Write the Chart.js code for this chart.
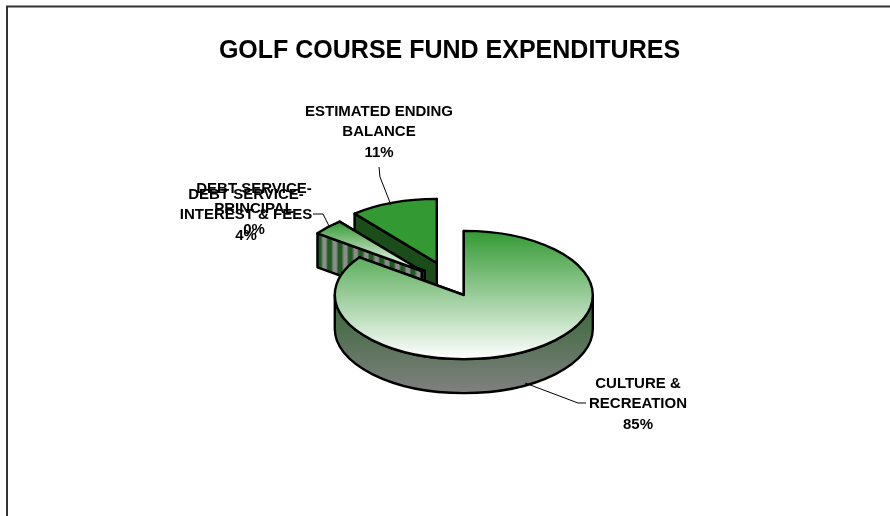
<!DOCTYPE html>
<html>
<head>
<meta charset="utf-8">
<title>Golf Course Fund Expenditures</title>
<script src="https://cdn.jsdelivr.net/npm/chart.js@4/dist/chart.umd.min.js"></script>
<style>
    html, body { margin: 0; padding: 0; background: #fff; overflow: hidden; }
    #wrap { position: absolute; left: 0; top: 0; width: 890px; height: 516px; }
</style>
</head>
<body>
<div id="wrap"><canvas id="fundChart" width="890" height="516"></canvas></div>
<script>
const chartTitle = "GOLF COURSE FUND EXPENDITURES";
const categories = [
    "CULTURE & RECREATION",
    "DEBT SERVICE-PRINCIPAL",
    "DEBT SERVICE-INTEREST & FEES",
    "ESTIMATED ENDING BALANCE"
];
const percentValues = [85, 0, 4, 11];

/* =========================
   LOOK OF THE 3D PIE
========================= */
const PIE_RADIUS = 129;
const TILT = 0.497;
const DEPTH = 34;
// how far each slice is pulled out of the pie, in pixels
const EXPLODE = [[0, 0], [-39, -24], [-42, -24], [-27, -32]];
// painter's order, back slices first
const PAINT_ORDER = [3, 1, 2, 0];

// label text lines with their centre position and leader line
const LABELS = [
    { lines: ["CULTURE &", "RECREATION", "85%"], x: 638, y: 383.5, leader: [[525, 383], [578, 403], [586, 403]] },
    { lines: ["DEBT SERVICE-", "PRINCIPAL", "0%"], x: 254, y: 188.5, leader: null },
    { lines: ["DEBT SERVICE-", "INTEREST & FEES", "4%"], x: 246, y: 194.5, leader: [[313, 214], [323, 214], [329, 226]] },
    { lines: ["ESTIMATED ENDING", "BALANCE", "11%"], x: 379, y: 111.5, leader: [[379, 167], [380, 177], [391, 205]] }
];

/* =========================
   FILLS
========================= */
function topFill(c) {
    const ctx = c.chart.ctx;
    const area = c.chart.chartArea;
    if (!area) return "#339933";
    const cy = (area.top + area.bottom) / 2;
    if (c.dataIndex === 0) {
        const g = ctx.createLinearGradient(0, cy - PIE_RADIUS, 0, cy + PIE_RADIUS);
        g.addColorStop(0, "#339933");
        g.addColorStop(1, "#ffffff");
        return g;
    }
    if (c.dataIndex === 2) {
        const g = ctx.createLinearGradient(0, cy - PIE_RADIUS * 0.77, 0, cy);
        g.addColorStop(0, "#339933");
        g.addColorStop(1, "#ffffff");
        return g;
    }
    return "#339933";
}

function stripes(ctx, x0, x1) {
    const period = 10.6;
    const g = ctx.createLinearGradient(x0, 0, x1, 0);
    const n = Math.ceil((x1 - x0) / period);
    for (let i = 0; i < n; i++) {
        g.addColorStop(i / n, "#1f5a1f");
        g.addColorStop((i + 0.3) / n, "#1f5a1f");
        g.addColorStop((i + 0.55) / n, "#8c8c8c");
        g.addColorStop((i + 0.8) / n, "#8c8c8c");
    }
    g.addColorStop(1, "#1f5a1f");
    return g;
}

/* =========================
   TOOL: PIE GEOMETRY
========================= */
function rim(p, angle) {
    return [p.x + PIE_RADIUS * Math.cos(angle), p.y + PIE_RADIUS * Math.sin(angle) * TILT];
}

function cutFace(ctx, p, angle, fill) {
    const e = rim(p, angle);
    ctx.beginPath();
    ctx.moveTo(p.x, p.y);
    ctx.lineTo(e[0], e[1]);
    ctx.lineTo(e[0], e[1] + DEPTH);
    ctx.lineTo(p.x, p.y + DEPTH);
    ctx.closePath();
    ctx.fillStyle = fill;
    ctx.fill();
    ctx.stroke();
}

function outerWall(ctx, p, start, end) {
    const from = Math.max(start, 0);
    const to = Math.min(end, Math.PI);
    if (to <= from) return;
    const g = ctx.createLinearGradient(0, p.y, 0, p.y + PIE_RADIUS * TILT + DEPTH);
    g.addColorStop(0, "#336633");
    g.addColorStop(1, "#808080");
    ctx.beginPath();
    ctx.ellipse(p.x, p.y, PIE_RADIUS, PIE_RADIUS * TILT, 0, from, to);
    ctx.ellipse(p.x, p.y + DEPTH, PIE_RADIUS, PIE_RADIUS * TILT, 0, to, from, true);
    ctx.closePath();
    ctx.fillStyle = g;
    ctx.fill();
    ctx.stroke();
}

/* =========================
   PLUGIN: TILTED PIE
========================= */
const tiltedPie = {
    id: "tiltedPie",
    beforeDatasetDraw(chart, args) {
        const ctx = chart.ctx;
        const arcs = args.meta.data;

        PAINT_ORDER.forEach(i => {
            const arc = arcs[i];
            const p = { x: arc.x + EXPLODE[i][0], y: arc.y + EXPLODE[i][1] };

            ctx.save();
            ctx.strokeStyle = "#000";
            ctx.lineWidth = 2.4;
            ctx.lineJoin = "round";

            let faceFill = "#1a4d1a";
            if (i === 2) {
                faceFill = stripes(ctx, rim(p, arc.startAngle)[0], p.x);
            }
            cutFace(ctx, p, arc.endAngle, "#1a4d1a");
            cutFace(ctx, p, arc.startAngle, faceFill);
            outerWall(ctx, p, arc.startAngle, arc.endAngle);

            // top face, drawn by the library and squashed into an ellipse
            ctx.save();
            ctx.translate(p.x, p.y);
            ctx.scale(1, TILT);
            ctx.translate(-arc.x, -arc.y);
            arc.draw(ctx);
            ctx.restore();

            ctx.beginPath();
            ctx.moveTo(p.x, p.y);
            ctx.ellipse(p.x, p.y, PIE_RADIUS, PIE_RADIUS * TILT, 0, arc.startAngle, arc.endAngle);
            ctx.closePath();
            ctx.stroke();
            ctx.restore();
        });
        return false;
    },
    afterDraw(chart) {
        const ctx = chart.ctx;
        ctx.save();

        // frame of the original picture, cut at the right and at the bottom
        ctx.strokeStyle = "#333";
        ctx.lineWidth = 2;
        ctx.beginPath();
        ctx.moveTo(7, 516);
        ctx.lineTo(7, 6.5);
        ctx.lineTo(890, 6.5);
        ctx.stroke();

        ctx.fillStyle = "#000";
        ctx.textAlign = "center";
        ctx.textBaseline = "middle";
        ctx.font = "bold 25px 'Liberation Sans'";
        ctx.fillText(chartTitle, 449.5, 51.5);

        ctx.font = "bold 15px 'Liberation Sans'";
        LABELS.forEach(label => {
            label.lines.forEach((line, n) => {
                ctx.fillText(line, label.x, label.y + n * 20.6);
            });
            if (!label.leader) return;
            ctx.strokeStyle = "#000";
            ctx.lineWidth = 1;
            ctx.beginPath();
            label.leader.forEach((pt, n) => {
                if (n === 0) ctx.moveTo(pt[0], pt[1]);
                else ctx.lineTo(pt[0], pt[1]);
            });
            ctx.stroke();
        });
        ctx.restore();
    }
};

/* =========================
   INIT
========================= */
new Chart(document.getElementById("fundChart").getContext("2d"), {
    type: "pie",
    data: {
        labels: categories,
        datasets: [{
            data: percentValues,
            backgroundColor: topFill,
            borderWidth: 0
        }]
    },
    options: {
        responsive: false,
        animation: false,
        radius: PIE_RADIUS,
        layout: { padding: { left: 37.6, top: 74 } },
        plugins: {
            legend: { display: false },
            tooltip: { enabled: false }
        }
    },
    plugins: [tiltedPie]
});
</script>
</body>
</html>
